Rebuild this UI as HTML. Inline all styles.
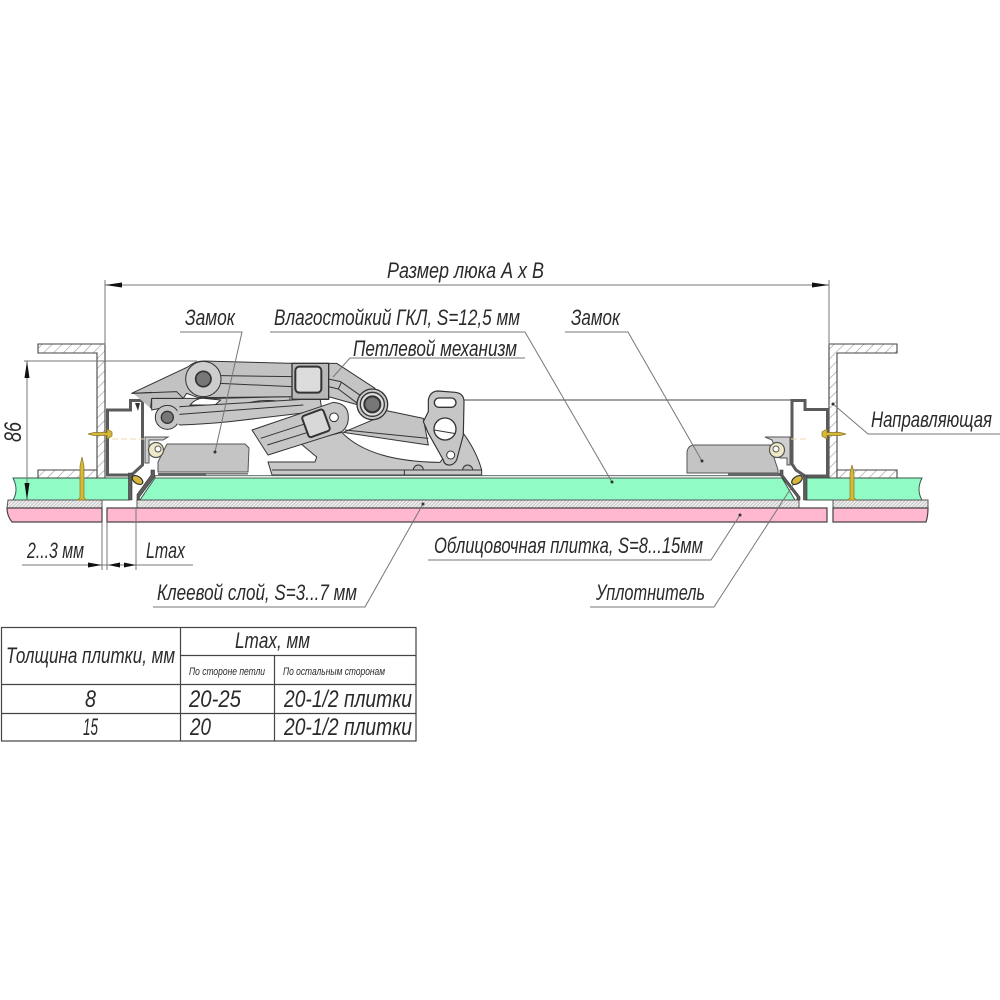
<!DOCTYPE html>
<html><head><meta charset="utf-8"><style>
html,body{margin:0;padding:0;background:#fff}
svg{display:block}
text{font-family:"Liberation Sans","DejaVu Sans",sans-serif;font-style:italic;fill:#2a2a2a}
</style></head><body>
<svg width="1000" height="1000" viewBox="0 0 1000 1000" xmlns="http://www.w3.org/2000/svg">
<defs>
<pattern id="h1" width="7" height="7" patternUnits="userSpaceOnUse" patternTransform="rotate(45)"><rect width="7" height="7" fill="#fff"/><line x1="0" y1="0" x2="0" y2="7" stroke="#999" stroke-width="1.2"/></pattern>
<pattern id="h2" width="2.4" height="2.4" patternUnits="userSpaceOnUse" patternTransform="rotate(45)"><rect width="2.4" height="2.4" fill="#eee"/><line x1="0" y1="0" x2="0" y2="2.4" stroke="#a0a0a0" stroke-width="1"/></pattern>
</defs>
<rect width="1000" height="1000" fill="#fff"/>

<!-- tiles -->
<g stroke="#3a5a4a" stroke-width="1">
<path d="M13 478H129V500H13Q19 490 13 478Z" fill="#90fbc5"/>
<path d="M806 478H922Q916 490 922 500H806Z" fill="#90fbc5"/>
<path d="M155 478H782L795 500H140Z" fill="#90fbc5"/>
</g>
<g stroke="#555" stroke-width="1">
<path d="M8 500H102V508H7Z" fill="url(#h2)"/>
<path d="M137 500H799V508H137Z" fill="url(#h2)"/>
<path d="M833 500H928V508H833Z" fill="url(#h2)"/>
</g>
<g stroke="#444" stroke-width="1.2">
<path d="M7 508H102V522H12Q7 516 7 508Z" fill="#ffb8cf"/>
<path d="M107 508H827V522H107Z" fill="#ffb8cf"/>
<path d="M833 508H928Q928 516 926 522H833Z" fill="#ffb8cf"/>
</g>
<path d="M155 475.500H782V478H155Z" fill="#dfeee6" stroke="#555" stroke-width=".8"/>

<!-- Z profiles -->
<g fill="url(#h1)" stroke="#444" stroke-width="1.1">
<path d="M38 344H105V478H97V353H38Z"/>
<path d="M38 470H97V478H38Z"/>
<path d="M829 344H897V353H837V478H829Z"/>
<path d="M837 470H897V478H837Z"/>
</g>

<!-- locks -->
<g fill="#c4c4c4" stroke="#555" stroke-width="1">
<path d="M167 444H245L249 448L248 472H158V462Z"/>
<path d="M687 452Q688 445 695 445H770L778 470V473H687Z"/>
</g>
<rect x="158" y="473" width="48" height="3" fill="#666"/>
<rect x="206" y="473" width="42" height="1.500" fill="#777"/>
<rect x="728" y="473" width="52" height="3" fill="#666"/>

<line x1="463" y1="400" x2="791" y2="400" stroke="#444" stroke-width="1.1"/>

<!-- frames -->
<g fill="#fff" stroke="#5a5a5a" stroke-width="3" stroke-linejoin="miter">
<path d="M107.500 410H130.500V400.500H142.500V465L137 470L131.500 475H107.500Z"/>
<path d="M792 400.500H805V409.500H827.500V476H805L796 470L792 464Z"/>
</g>
<path d="M135 403L140 403L138 411Z" fill="#333"/>
<g fill="#5e5e5e" stroke="#333" stroke-width=".6">
<path d="M128.500 473H132V500H128.500Z"/>
<path d="M803.500 476H807V500H803.500Z"/>
<path d="M137 500V494.500L151 475V470H154.500V477L139.500 497V500Z"/>
<path d="M780 470H783V475L800 497V500H797V497L780 475Z"/>
</g>
<!-- catches -->
<g fill="#cfcfcf" stroke="#555" stroke-width="1">
<path d="M145 437H168L163 440H149V463H145Z"/>
<path d="M765 437H790V465H787V458H780L772 440Z"/>
</g>
<g stroke="#555" fill="#efe9c8" stroke-width="1.2"><circle cx="156" cy="450" r="7.500"/><circle cx="777" cy="450" r="7.500"/></g>
<g fill="#fff" stroke="#555"><circle cx="158" cy="449" r="3"/><circle cx="776" cy="449" r="3"/></g>

<!-- hinge base + plate (drawn first), crop coordinates -->
<g transform="translate(300 355) scale(.33333)" stroke="#333" stroke-width="3" stroke-linejoin="round">
<path d="M-96 321L45 321L50 306L0 264L125 232Q210 320 420 322L490 235Q530 290 545 345V360H-84Z" fill="#c8c8c8"/>
<path d="M-84 345H545M313 345V360" fill="none"/>
<path d="M340 345a15 15 0 0 1 30 0ZM488 345a15 15 0 0 1 30 0Z" fill="#bbb"/>
<path d="M250 165L370 190L385 270L130 232L230 190Z" fill="#c4c4c4"/>
<path d="M135 225L385 250" fill="none"/>
<path d="M385 135Q390 108 415 108L465 112Q492 115 492 140L490 240L470 315Q460 332 445 330Q432 328 430 315L385 235L370 200L385 170Z" fill="#c6c6c6" stroke-width="3.500"/>
<rect x="403" y="129" width="65" height="28" rx="14" fill="#fff" stroke-width="4"/>
<circle cx="435" cy="222" r="33" fill="#fff" stroke-width="4"/>
<path d="M402 225L467 236" fill="none"/>
<circle cx="452" cy="300" r="12" fill="#fff" stroke-width="3"/>
</g>

<!-- hinge: left half, crop coordinates -->
<g transform="translate(130 355) scale(.33333)" stroke="#333" stroke-width="3" stroke-linejoin="round">
<path d="M65 130H205L260 130L480 125V175L165 190L90 160L65 165Z" fill="#c6c6c6"/>
<path d="M180 150Q200 128 222 130L272 135L255 150Z" fill="#fff"/>
<path d="M350 145Q410 128 482 145Z" fill="#fff"/>
<path d="M5 115L175 35Q195 18 220 18L490 25V125L205 128L170 115L160 130H65V112Z" fill="#c2c2c2"/>
<path d="M10 115L140 110L160 130H65L62 160" fill="#bdbdbd"/>
<circle cx="220" cy="72" r="53" fill="#cdcdcd"/>
<path d="M272 62L485 65M270 85L485 95" fill="none"/>
<circle cx="220" cy="72" r="23" fill="#777" stroke-width="5"/>
<path d="M150 155L570 130L575 160L510 175L300 200Q220 208 150 210Z" fill="#c6c6c6"/>
<circle cx="112" cy="187" r="36" fill="#c6c6c6"/>
<path d="M143 170L150 155M143 205L150 210" fill="none"/>
<rect x="142" y="157" width="12" height="51" fill="#c6c6c6" stroke="none"/>
<path d="M148 178L520 150" fill="none"/>
<circle cx="112" cy="187" r="18" fill="#777" stroke-width="4"/>
</g>

<!-- hinge upper arm / link / pivot, crop coordinates -->
<g transform="translate(300 355) scale(.33333)" stroke="#333" stroke-width="3" stroke-linejoin="round">
<path d="M85 25H110L225 100L175 150L85 125Z" fill="#c4c4c4"/>
<path d="M85 72L122 80L182 122M85 95L115 102L172 145M125 80L115 102" fill="none"/>
<rect x="-24" y="25" width="110" height="108" fill="#b8b8b8" stroke-width="4"/>
<rect x="-14" y="35" width="78" height="78" rx="12" fill="#dcdcdc" stroke-width="6"/>
<path d="M-144 225L100 142Q145 145 145 187Q145 215 125 230L-96 300Z" fill="#c6c6c6"/>
<path d="M-118 250L20 205M-98 270L30 230" fill="none"/>
<circle cx="102" cy="187" r="13" fill="#fff"/>
<rect x="14" y="171" width="68" height="68" rx="8" transform="rotate(-20 48 205)" fill="#d8d8d8" stroke-width="6"/>
<circle cx="217" cy="148" r="46" fill="#c8c8c8" stroke-width="4"/>
<circle cx="217" cy="148" r="36" fill="#dcdcdc" stroke-width="4"/>
<circle cx="217" cy="148" r="24" fill="#777" stroke-width="6"/>
</g>

<!-- thin lines -->
<g fill="none" stroke="#777" stroke-width="1">
<path d="M105 280V345M829 280V345"/>
<path d="M105 285H829"/>
<path d="M24 361H197"/>
<path d="M27 361V500"/>
<path d="M22 565H193"/>
<path d="M102 522V570M107 522V570M136 508V570"/>
<path d="M180 332H242L215 452"/>
<path d="M270 332H525L612 482"/>
<path d="M565 332H628L702 461"/>
<path d="M525 358H350L333 377"/>
<path d="M1000 434H868L833 404"/>
<path d="M153 607H365L423 504"/>
<path d="M428 560H711L740 515"/>
<path d="M590 607H714L795 482"/>
</g>
<!-- arrowheads -->
<g fill="#111">
<path d="M105 285l17-2.500v5z"/><path d="M829 285l-17-2.500v5z"/>
<path d="M27 361l-2.500 17h5z"/><path d="M27 500l-2.500-17h5z"/>
<path d="M102 565l-14-2.500v5z"/><path d="M108 565l12-2.500v5z"/><path d="M136 565l-12-2.500v5z"/>
</g>

<!-- screws and seals -->
<g fill="#d6b83a" stroke="#8a7420" stroke-width=".7">
<path d="M88 434L94 432.500H107V429L112 432V436L107 439V435.500H94Z"/>
<path d="M846 434L840 432.500H827V429L822 432V436L827 439V435.500H840Z"/>
<path d="M82 457L84 466V498L87 500H77L80 498V466Z"/>
<path d="M852 465L854 473V498L857 500H847L850 498V473Z"/>
</g>
<g fill="#d6b83a" stroke="#333" stroke-width="1.2">
<ellipse cx="137.500" cy="480" rx="6" ry="3.500" transform="rotate(35 137.500 480)"/>
<ellipse cx="797" cy="480" rx="6" ry="3.500" transform="rotate(-35 797 480)"/>
</g>
<path d="M112 439H145M806 439H790" stroke="#f0d8a8" stroke-dasharray="6 3" fill="none"/>
<g fill="#333"><circle cx="215" cy="452" r="1.500"/><circle cx="612" cy="482" r="1.500"/><circle cx="702" cy="461" r="1.500"/><circle cx="833" cy="404" r="1.500"/><circle cx="423" cy="504" r="1.500"/><circle cx="740" cy="515" r="1.500"/></g>

<!-- labels -->
<g font-size="22">
<text x="387" y="278" textLength="157" lengthAdjust="spacingAndGlyphs">Размер люка А х В</text>
<text x="185" y="325" textLength="50" lengthAdjust="spacingAndGlyphs">Замок</text>
<text x="274" y="325" textLength="246" lengthAdjust="spacingAndGlyphs">Влагостойкий ГКЛ, S=12,5 мм</text>
<text x="571" y="325" textLength="49" lengthAdjust="spacingAndGlyphs">Замок</text>
<text x="353" y="356" textLength="164" lengthAdjust="spacingAndGlyphs">Петлевой механизм</text>
<text x="871" y="427" textLength="121" lengthAdjust="spacingAndGlyphs">Направляющая</text>
<text x="27" y="558" textLength="57" lengthAdjust="spacingAndGlyphs">2...3 мм</text>
<text x="146" y="558" textLength="39" lengthAdjust="spacingAndGlyphs">Lmax</text>
<text x="157" y="600" textLength="200" lengthAdjust="spacingAndGlyphs">Клеевой слой, S=3...7 мм</text>
<text x="434" y="553" textLength="269" lengthAdjust="spacingAndGlyphs">Облицовочная плитка, S=8...15мм</text>
<text x="596" y="600" textLength="109" lengthAdjust="spacingAndGlyphs">Уплотнитель</text>
<text transform="translate(21 442) rotate(-90)" font-size="24" textLength="20" lengthAdjust="spacingAndGlyphs">86</text>
</g>

<!-- table -->
<g fill="none" stroke="#444" stroke-width="1.2">
<rect x="1.500" y="627.500" width="414.500" height="113.500"/>
<path d="M180.500 627V741M180.500 655.500H416M274.500 655.500V741M1 684.500H416M1 713.500H416"/>
</g>
<g font-size="22">
<text x="6" y="663" textLength="169" lengthAdjust="spacingAndGlyphs">Толщина плитки, мм</text>
<text x="235" y="648" textLength="75" lengthAdjust="spacingAndGlyphs">Lmax, мм</text>
</g>
<g font-size="24">
<text x="85" y="707" textLength="11" lengthAdjust="spacingAndGlyphs">8</text>
<text x="189" y="707" textLength="52" lengthAdjust="spacingAndGlyphs">20-25</text>
<text x="284" y="707" textLength="128" lengthAdjust="spacingAndGlyphs">20-1/2 плитки</text>
<text x="83" y="735" textLength="15" lengthAdjust="spacingAndGlyphs">15</text>
<text x="190" y="735" textLength="21" lengthAdjust="spacingAndGlyphs">20</text>
<text x="284" y="735" textLength="128" lengthAdjust="spacingAndGlyphs">20-1/2 плитки</text>
</g>
<g font-size="11">
<text x="189" y="675" textLength="76" lengthAdjust="spacingAndGlyphs">По стороне петли</text>
<text x="283" y="675" textLength="102" lengthAdjust="spacingAndGlyphs">По остальным сторонам</text>
</g>
</svg>
</body></html>
